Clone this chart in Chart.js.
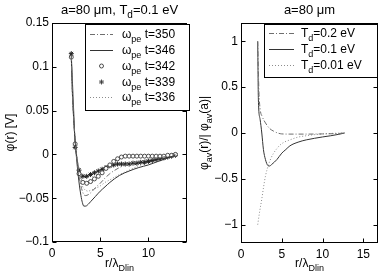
<!DOCTYPE html>
<html><head><meta charset="utf-8">
<script src="https://cdn.jsdelivr.net/npm/chart.js@4/dist/chart.umd.min.js"></script>
<style>
html,body{margin:0;padding:0;background:#fff;width:382px;height:273px;overflow:hidden}
canvas{position:absolute;top:0}
#c1{left:0;width:192px;height:273px}
#c2{left:192px;width:190px;height:273px}
</style></head><body>
<canvas id="c1" width="192" height="273"></canvas>
<canvas id="c2" width="190" height="273"></canvas>
<script>
// ---------- LEFT PANEL DATA ----------
const rLine = [2.0, 2.1, 2.25, 2.4, 2.55, 2.7, 2.85, 3.0, 3.15, 3.3, 3.5, 3.75, 4.0, 4.5, 5.0, 5.5, 6.0, 7.0, 8.0, 9.0, 10.0, 11.0, 12.0, 12.8];
const phi350 = [0.112, 0.074, 0.040, 0.016, -0.002, -0.017, -0.028, -0.036, -0.042, -0.046, -0.047, -0.046, -0.044, -0.038, -0.033, -0.027, -0.022, -0.015, -0.011, -0.008, -0.006, -0.004, -0.002, 0.0];
const phi346 = [0.113, 0.075, 0.040, 0.015, -0.005, -0.022, -0.036, -0.047, -0.055, -0.059, -0.059, -0.057, -0.054, -0.048, -0.042, -0.037, -0.032, -0.024, -0.019, -0.015, -0.012, -0.008, -0.004, -0.001];
const phi336 = [0.110, 0.073, 0.040, 0.017, 0.000, -0.014, -0.024, -0.031, -0.036, -0.039, -0.041, -0.042, -0.041, -0.039, -0.036, -0.032, -0.029, -0.023, -0.018, -0.013, -0.009, -0.006, -0.003, 0.0];
const rMark = [2.0, 2.4, 2.8, 3.2, 3.6, 4.0, 4.4, 4.8, 5.2, 5.6, 6.0, 6.4, 6.8, 7.2, 7.6, 8.0, 8.4, 8.8, 9.2, 9.6, 10.0, 10.4, 10.8, 11.2, 11.6, 12.0, 12.4, 12.8];
const phi342 = [0.111, 0.012, -0.022, -0.032, -0.033, -0.031, -0.028, -0.025, -0.021, -0.016, -0.012, -0.008, -0.005, -0.003, -0.002, -0.002, -0.002, -0.002, -0.002, -0.002, -0.002, -0.002, -0.002, -0.002, -0.002, -0.001, -0.001, 0.0];
const phi339 = [0.115, 0.008, -0.018, -0.025, -0.025, -0.023, -0.021, -0.019, -0.017, -0.015, -0.013, -0.012, -0.011, -0.011, -0.011, -0.011, -0.010, -0.010, -0.009, -0.009, -0.008, -0.007, -0.006, -0.005, -0.004, -0.003, -0.002, -0.001];
const xTicksL = [0, 5, 10];
const xTickLabelsL = ['0', '5', '10'];
const yTicksL = [-0.1, -0.05, 0, 0.05, 0.1, 0.15];
const yTickLabelsL = ['\u22120.1', '\u22120.05', '0', '0.05', '0.1', '0.15'];
const legendL = ['t=350', 't=346', 't=342', 't=339', 't=336'];

// ---------- RIGHT PANEL DATA ----------
const rT02 = [2.05, 2.2, 2.35, 2.6, 3.0, 3.5, 4.0, 4.5, 5.0, 6.0, 8.0, 10.0, 12.0, 12.7];
const phiT02 = [1.0, 0.45, 0.26, 0.18, 0.11, 0.05, 0.02, 0.0, -0.01, -0.012, -0.012, -0.01, -0.005, 0.0];
const rT01 = [2.05, 2.13, 2.34, 2.55, 2.75, 3.0, 3.3, 3.5, 3.8, 4.4, 5.0, 5.5, 6.0, 7.0, 8.0, 9.0, 10.0, 11.0, 12.0, 12.7];
const phiT01 = [1.0, 0.37, 0.15, 0.0, -0.18, -0.29, -0.355, -0.36, -0.34, -0.29, -0.22, -0.18, -0.14, -0.10, -0.075, -0.058, -0.043, -0.03, -0.014, 0.0];
const rT001 = [2.05, 2.3, 2.55, 2.75, 3.0, 3.36, 3.7, 4.0, 4.4, 4.8, 5.3, 6.0, 7.0, 8.0, 9.0, 10.0, 11.0, 12.0, 12.7];
const phiT001 = [-1.0, -0.85, -0.72, -0.6, -0.47, -0.35, -0.27, -0.22, -0.17, -0.13, -0.10, -0.075, -0.045, -0.03, -0.018, -0.01, -0.005, -0.002, 0.0];
const xTicksR = [0, 5, 10, 15];
const xTickLabelsR = ['0', '5', '10', '15'];
const yTicksR = [-1, -0.5, 0, 0.5, 1];
const yTickLabelsR = ['\u22121', '\u22120.5', '0', '0.5', '1'];
const legendR = ['=0.2 eV', '=0.1 eV', '=0.01 eV'];

const FONT = '"Liberation Sans", Arial, Helvetica, sans-serif';
const C_DD = '#6e6e6e', C_SOL = '#333333', C_DOT = '#8c8c8c', C_MK = '#3a3a3a';
const DASH_DD = [5, 2, 1, 2], DASH_DOT = [1, 2];

function pts(xs, ys) { return xs.map((x, i) => ({x: x, y: ys[i]})); }

function drawRich(ctx, parts, x, y, align, fs, sfs) {
  let w = 0;
  parts.forEach(p => { ctx.font = (p[1] ? sfs : fs) + 'px ' + FONT; w += ctx.measureText(p[0]).width; });
  let cx = align === 'center' ? x - w / 2 : (align === 'right' ? x - w : x);
  ctx.textAlign = 'left'; ctx.textBaseline = 'alphabetic';
  parts.forEach(p => {
    ctx.font = (p[1] ? sfs : fs) + 'px ' + FONT;
    ctx.fillText(p[0], cx, y + (p[1] ? 4 : 0));
    cx += ctx.measureText(p[0]).width;
  });
}

function drawMarker(ctx, style, x, y) {
  ctx.save();
  ctx.setLineDash([]);
  ctx.strokeStyle = C_MK; ctx.lineWidth = 0.9;
  if (style === 'circle') {
    ctx.fillStyle = '#fff';
    ctx.beginPath(); ctx.arc(x, y, 2, 0, Math.PI * 2); ctx.fill(); ctx.stroke();
  } else {
    ctx.beginPath();
    for (let k = 0; k < 4; k++) {
      const a = k * Math.PI / 4;
      ctx.moveTo(x - 2.5 * Math.cos(a), y - 2.5 * Math.sin(a));
      ctx.lineTo(x + 2.5 * Math.cos(a), y + 2.5 * Math.sin(a));
    }
    ctx.stroke();
  }
  ctx.restore();
}

function decoPlugin(cfg) {
  return {
    id: 'deco',
    afterDraw(chart) {
      const ctx = chart.ctx, a = chart.chartArea;
      const xs = chart.scales.x, ys = chart.scales.y;
      ctx.save();
      const L = Math.round(a.left) + 0.5, R = Math.round(a.right) - 0.5, T = Math.round(a.top) + 0.5, B = Math.round(a.bottom) - 0.5;
      ctx.strokeStyle = '#000'; ctx.lineWidth = 1; ctx.setLineDash([]);
      ctx.strokeRect(L, T, R - L, B - T);
      ctx.beginPath();
      xs.ticks.forEach(t => {
        const px = Math.round(xs.getPixelForValue(t.value)) + 0.5;
        ctx.moveTo(px, B); ctx.lineTo(px, B - 4);
        ctx.moveTo(px, T); ctx.lineTo(px, T + 4);
      });
      ys.ticks.forEach(t => {
        const py = Math.round(ys.getPixelForValue(t.value)) + 0.5;
        ctx.moveTo(L, py); ctx.lineTo(L + 4, py);
        ctx.moveTo(R, py); ctx.lineTo(R - 4, py);
      });
      ctx.stroke();
      ctx.fillStyle = '#000';
      const cxp = (a.left + a.right) / 2;
      drawRich(ctx, cfg.title, cxp, 14, 'center', 13, 10);
      drawRich(ctx, cfg.xTitle, cxp, 267, 'center', 12, 9);
      ctx.save();
      ctx.translate(cfg.yTitleX, (a.top + a.bottom) / 2);
      ctx.rotate(-Math.PI / 2);
      drawRich(ctx, cfg.yTitle, 0, 4, 'center', 12, 9);
      ctx.restore();
      const lg = cfg.legend;
      ctx.fillStyle = '#fff';
      ctx.fillRect(lg.x0, lg.y0, lg.x1 - lg.x0, lg.y1 - lg.y0);
      ctx.strokeStyle = '#000'; ctx.lineWidth = 1;
      ctx.strokeRect(lg.x0 + 0.5, lg.y0 + 0.5, lg.x1 - lg.x0 - 1, lg.y1 - lg.y0 - 1);
      lg.items.forEach((it, i) => {
        const y = lg.rows[i];
        if (it.marker) {
          drawMarker(ctx, it.marker, (lg.s0 + lg.s1) / 2, y);
        } else {
          ctx.save();
          ctx.strokeStyle = it.color; ctx.lineWidth = 1; ctx.setLineDash(it.dash);
          ctx.beginPath(); ctx.moveTo(lg.s0, y + 0.5); ctx.lineTo(lg.s1, y + 0.5); ctx.stroke();
          ctx.restore();
        }
        ctx.fillStyle = '#000';
        drawRich(ctx, it.text, lg.tx, y + 4, 'left', 12, 9);
      });
      ctx.restore();
    }
  };
}

function axisCfg(min, max, ticksArr, labels, size, isX) {
  return {
    type: 'linear', min: min, max: max,
    grid: {display: false, drawTicks: false},
    border: {display: false},
    afterBuildTicks: s => { s.ticks = ticksArr.map(v => ({value: v})); },
    afterFit: s => { if (isX) s.height = size; else s.width = size; },
    ticks: {
      color: '#000', font: {family: FONT, size: 12}, padding: isX ? 4 : 3,
      autoSkip: false, maxRotation: 0,
      callback: (v, i) => labels[i]
    }
  };
}

function lineDS(data, color, dash, width) {
  return {data: data, showLine: true, borderColor: color, borderDash: dash, borderWidth: width, pointRadius: 0, pointHoverRadius: 0, fill: false, cubicInterpolationMode: 'monotone'};
}

new Chart(document.getElementById('c1'), {
  type: 'scatter',
  data: {datasets: [
    lineDS(pts(rLine, phi350), C_DD, DASH_DD, 1),
    lineDS(pts(rLine, phi346), C_SOL, [], 1),
    {data: pts(rMark, phi342), showLine: true, borderColor: '#666', borderWidth: 0.7, pointStyle: 'circle', pointRadius: 2, pointBackgroundColor: '#fff', pointBorderColor: C_MK, pointBorderWidth: 0.9},
    {data: pts(rMark, phi339), showLine: true, borderColor: '#555', borderWidth: 0.7, pointStyle: 'star', pointRadius: 2.5, pointBorderColor: '#222', pointBorderWidth: 1},
    lineDS(pts(rLine, phi336), C_DOT, DASH_DOT, 1)
  ]},
  options: {
    responsive: false, animation: false, devicePixelRatio: 1,
    layout: {padding: {top: 23, right: 1, left: 0, bottom: 0}},
    plugins: {legend: {display: false}, tooltip: {enabled: false}},
    scales: {
      x: axisCfg(0, 14, xTicksL, xTickLabelsL, 31, true),
      y: axisCfg(-0.1, 0.15, yTicksL, yTickLabelsL, 52, false)
    }
  },
  plugins: [decoPlugin({
    title: [['a=80 \u03bcm, T', false], ['d', true], ['=0.1 eV', false]],
    xTitle: [['r/\u03bb', false], ['Dlin', true]],
    yTitle: [['\u03c6(r) [V]', false]],
    yTitleX: 10,
    legend: {
      x0: 85, x1: 190, y0: 24, y1: 111, s0: 90, s1: 113, tx: 122,
      rows: [34, 50, 66, 82, 97],
      items: [
        {color: C_DD, dash: DASH_DD, text: [['\u03c9', false], ['pe', true], [' ' + legendL[0], false]]},
        {color: C_SOL, dash: [], text: [['\u03c9', false], ['pe', true], [' ' + legendL[1], false]]},
        {marker: 'circle', text: [['\u03c9', false], ['pe', true], [' ' + legendL[2], false]]},
        {marker: 'star', text: [['\u03c9', false], ['pe', true], [' ' + legendL[3], false]]},
        {color: C_DOT, dash: DASH_DOT, text: [['\u03c9', false], ['pe', true], [' ' + legendL[4], false]]}
      ]
    }
  })]
});

new Chart(document.getElementById('c2'), {
  type: 'scatter',
  data: {datasets: [
    lineDS(pts(rT02, phiT02), C_DD, DASH_DD, 1),
    lineDS(pts(rT01, phiT01), C_SOL, [], 1),
    lineDS(pts(rT001, phiT001), C_DOT, DASH_DOT, 1)
  ]},
  options: {
    responsive: false, animation: false, devicePixelRatio: 1,
    layout: {padding: {top: 23, right: 4, left: 0, bottom: 0}},
    plugins: {legend: {display: false}, tooltip: {enabled: false}},
    scales: {
      x: axisCfg(0, 16.8, xTicksR, xTickLabelsR, 30, true),
      y: axisCfg(-1.2, 1.2, yTicksR, yTickLabelsR, 49, false)
    }
  },
  plugins: [decoPlugin({
    title: [['a=80 \u03bcm', false]],
    xTitle: [['r/\u03bb', false], ['Dlin', true]],
    yTitle: [['\u03c6', false], ['av', true], ['(r)/| \u03c6', false], ['av', true], ['(a)|', false]],
    yTitleX: 12,
    legend: {
      x0: 72, x1: 186, y0: 24, y1: 78, s0: 77, s1: 102, tx: 109,
      rows: [33, 49, 65],
      items: [
        {color: C_DD, dash: DASH_DD, text: [['T', false], ['d', true], [legendR[0], false]]},
        {color: C_SOL, dash: [], text: [['T', false], ['d', true], [legendR[1], false]]},
        {color: C_DOT, dash: DASH_DOT, text: [['T', false], ['d', true], [legendR[2], false]]}
      ]
    }
  })]
});
</script>
</body></html>
